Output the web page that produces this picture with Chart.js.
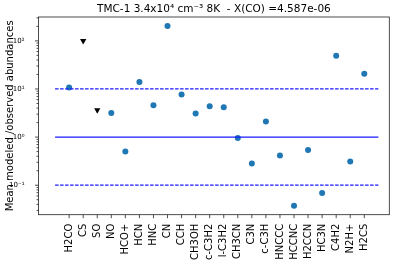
<!DOCTYPE html>
<html>
<head>
<meta charset="UTF-8">
<title>TMC-1 modeled / observed</title>
<script src="https://cdn.jsdelivr.net/npm/chart.js"></script>
<style>
    html, body { margin: 0; padding: 0; background: #fff; }
</style>
</head>
<body>
<canvas id="ratioChart" width="399" height="260"></canvas>
<script>
    // molecules along the x axis
    const molecules = ['H2CO', 'CS', 'SO', 'NO', 'HCO+', 'HCN', 'HNC', 'CN', 'CCH', 'CH3OH',
        'c-C3H2', 'l-C3H2', 'CH3CN', 'C3N', 'c-C3H', 'HNCCC', 'HCCNC', 'H2CCN', 'HC3N',
        'C4H2', 'N2H+', 'H2CS'];
    // mean modeled / observed ratio (null where only a limit exists)
    const ratios = [10.7, null, null, 3.15, 0.50, 14.0, 4.6, 204, 7.65, 3.09,
        4.4, 4.19, 0.953, 0.283, 2.11, 0.415, 0.0376, 0.537, 0.069,
        49.3, 0.312, 20.6];
    // upper limits (triangles)
    const upperLimits = [null, 100, 3.65, null, null, null, null, null, null, null,
        null, null, null, null, null, null, null, null, null,
        null, null, null];
    // reference levels: factor 10 band and 1:1
    const refLevels = [10, 1, 0.1];
    const refSpan = [-1, 22];
    const yTickValues = [0.1, 1, 10, 100];
    const yTickLabels = ['10\u207B\u00B9', '10\u2070', '10\u00B9', '10\u00B2'];
    const chartTitle = 'TMC-1 3.4x10\u2074 cm\u207B\u00B3 8K  - X(CO) =4.587e-06';

    const FONT = 'DejaVu Sans';

    // frame, title + matplotlib-like tick marks
    const frameTicks = {
        id: 'frameTicks',
        afterDraw(chart) {
            const {ctx, chartArea: a, scales: {x, y}} = chart;
            ctx.save();
            ctx.strokeStyle = '#222';
            ctx.lineWidth = 0.8;
            ctx.strokeRect(a.left, a.top, a.right - a.left, a.bottom - a.top);
            ctx.beginPath();
            molecules.forEach((m, i) => {
                const px = x.getPixelForValue(i);
                ctx.moveTo(px, a.bottom);
                ctx.lineTo(px, a.bottom + 3.5);
            });
            for (let e = -2; e <= 2; e++) {
                for (let k = 1; k <= 9; k++) {
                    const v = k * Math.pow(10, e);
                    if (v < y.min || v > y.max) continue;
                    const py = y.getPixelForValue(v);
                    const len = k === 1 ? 3.5 : 2;
                    ctx.moveTo(a.left - len, py);
                    ctx.lineTo(a.left, py);
                }
            }
            ctx.stroke();

            // title centred over the axes, like matplotlib
            ctx.fillStyle = '#000';
            ctx.font = '10.5px "' + FONT + '"';
            ctx.textAlign = 'center';
            ctx.textBaseline = 'middle';
            ctx.fillText(chartTitle, (a.left + a.right) / 2, 9);
            ctx.restore();
        }
    };

    const refDatasets = refLevels.map(level => ({
        data: refSpan.map(xv => ({x: xv, y: level})),
        showLine: true,
        borderColor: '#1a1aff',
        borderWidth: 1.2,
        borderDash: level === 1 ? [] : [3.5, 1.5],
        pointRadius: 0
    }));

    const config = {
        type: 'scatter',
        data: {
            datasets: [
                ...refDatasets,
                {
                    data: molecules.map((m, i) => ({x: i, y: ratios[i]})).filter(p => p.y !== null),
                    backgroundColor: '#1f77b4',
                    borderWidth: 0,
                    pointRadius: 3
                },
                {
                    data: molecules.map((m, i) => ({x: i, y: upperLimits[i]})).filter(p => p.y !== null),
                    pointStyle: 'triangle',
                    rotation: 180,
                    backgroundColor: '#000',
                    borderWidth: 0,
                    pointRadius: 3.6
                }
            ]
        },
        options: {
            responsive: false,
            animation: false,
            layout: {padding: {left: 0, right: 9.7, top: 17, bottom: 0}},
            plugins: {
                legend: {display: false},
                tooltip: {enabled: false},
                title: {display: false}
            },
            scales: {
                x: {
                    type: 'linear',
                    min: -2.18,
                    max: 22.78,
                    afterBuildTicks: s => { s.ticks = molecules.map((m, i) => ({value: i})); },
                    afterFit: s => { s.height = 45.3; },
                    grid: {display: false},
                    border: {display: false},
                    ticks: {
                        autoSkip: false,
                        minRotation: 90,
                        maxRotation: 90,
                        padding: 1,
                        color: '#000',
                        font: {family: FONT, size: 10},
                        callback: v => molecules[v]
                    }
                },
                y: {
                    type: 'logarithmic',
                    min: 0.0244,
                    max: 313,
                    afterBuildTicks: s => { s.ticks = yTickValues.map(v => ({value: v, major: true})); },
                    afterFit: s => { s.width = 38.5; },
                    grid: {display: false},
                    border: {display: false},
                    ticks: {
                        padding: 6,
                        color: '#000',
                        font: {family: FONT, size: 7},
                        callback: v => yTickLabels[yTickValues.indexOf(v)]
                    },
                    title: {
                        display: true,
                        text: 'Mean modeled /observed abundances',
                        color: '#000',
                        font: {family: FONT, size: 10},
                        padding: {top: 4, bottom: 0}
                    }
                }
            }
        },
        plugins: [frameTicks]
    };

    new Chart(document.getElementById('ratioChart'), config);
</script>
</body>
</html>
